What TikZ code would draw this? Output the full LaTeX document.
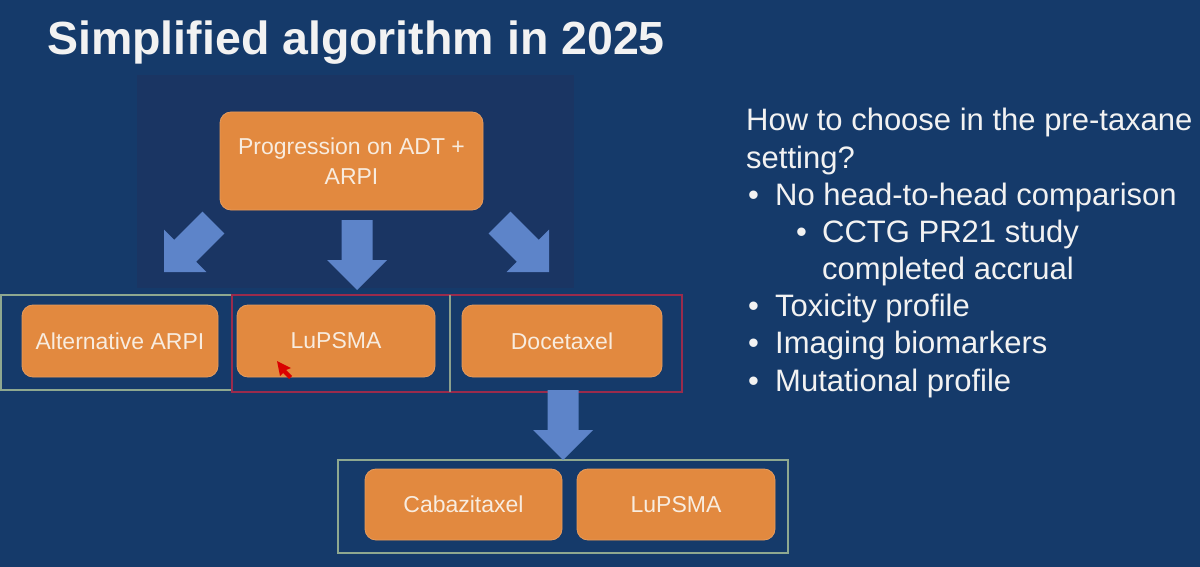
\documentclass[tikz,border=0pt]{standalone}
\usepackage{fontspec}
\setmainfont{Liberation Sans}
\definecolor{bg}{HTML}{153A6A}
\definecolor{panel}{HTML}{1A3563}
\definecolor{boxor}{HTML}{E2893F}
\definecolor{boxtext}{HTML}{F8ECDF}
\definecolor{arrowblue}{HTML}{5D84C9}
\definecolor{framegreen}{HTML}{8EA890}
\definecolor{framered}{HTML}{9A2B4C}
\definecolor{txt}{HTML}{F2F2F2}
\tikzset{
  box/.style={rectangle, rounded corners=11pt, fill=boxor, draw=boxor!85!white, line width=0.8pt,
    text=boxtext, font=\fontsize{23}{30}\selectfont, align=center, inner sep=0pt},
  frameline/.style={line width=1.5pt},
  rtext/.style={anchor=base west, text=txt, font=\fontsize{31}{37}\selectfont, inner sep=0pt},
  pics/barrow/.style={code={\fill[arrowblue] (0,0) -- (30,30) -- (15.5,30) -- (15.5,70) -- (-15.5,70) -- (-15.5,30) -- (-30,30) -- cycle;}}
}
\begin{document}
\begin{tikzpicture}[x=1pt,y=1pt]
\useasboundingbox (0,0) rectangle (1200,-567);
\fill[bg] (0,0) rectangle (1200,-567);
\fill[panel] (137,-75) rectangle (574,-288);

% title
\node[anchor=base west, inner sep=0pt, text=txt, font=\bfseries\fontsize{46.5}{50}\selectfont] (title) at (47,-55) {Simplified algorithm in 2025};

% frames
\draw[frameline, framegreen] (1,-295) rectangle (232,-390);
\draw[frameline, framered] (232,-295) rectangle (682,-392);
\draw[frameline, framegreen!80!gray] (450,-295) -- (450,-392);
\draw[frameline, framegreen] (338,-460) rectangle (788,-553);

% boxes
\node[box, minimum width=263pt, minimum height=98pt] (top) at (351.5,-161) {Progression on ADT +\\ARPI};
\node[box, minimum width=196pt, minimum height=72pt] (alt) at (120,-341) {Alternative ARPI};
\node[box, minimum width=198pt, minimum height=72pt] (lu1) at (336,-341) {LuPSMA};
\node[box, minimum width=200pt, minimum height=72pt] (doc) at (562,-341) {Docetaxel};
\node[box, minimum width=197pt, minimum height=71pt] (cab) at (463.5,-504.5) {Cabazitaxel};
\node[box, minimum width=198pt, minimum height=71pt] (lu2) at (676,-504.5) {LuPSMA};

% block arrows
\pic[rotate=-45] at (164,-272) {barrow};
\pic at (357,-290) {barrow};
\pic[rotate=45] at (549,-272) {barrow};
\pic at (563,-460) {barrow};

% cursor
\fill[red!85!black] (277,-361) -- (291,-368) -- (286,-370) -- (292,-376) -- (289,-379) -- (283,-373) -- (280,-376) -- cycle;

% right text
\node[rtext] (q1) at (746,-131) {How to choose in the pre-taxane};
\node[rtext] (q2) at (746,-168) {setting?};
\node[rtext] (b1d) at (748,-205) {•};
\node[rtext] (b1) at (775,-205) {No head-to-head comparison};
\node[rtext] (b2d) at (796,-242) {•};
\node[rtext] (b2) at (822,-242) {CCTG PR21 study};
\node[rtext] (b2b) at (822,-279) {completed accrual};
\node[rtext] (b3d) at (748,-316) {•};
\node[rtext] (b3) at (775,-316) {Toxicity profile};
\node[rtext] (b4d) at (748,-353) {•};
\node[rtext] (b4) at (775,-353) {Imaging biomarkers};
\node[rtext] (b5d) at (748,-391) {•};
\node[rtext] (b5) at (775,-391) {Mutational profile};
\end{tikzpicture}
\end{document}
